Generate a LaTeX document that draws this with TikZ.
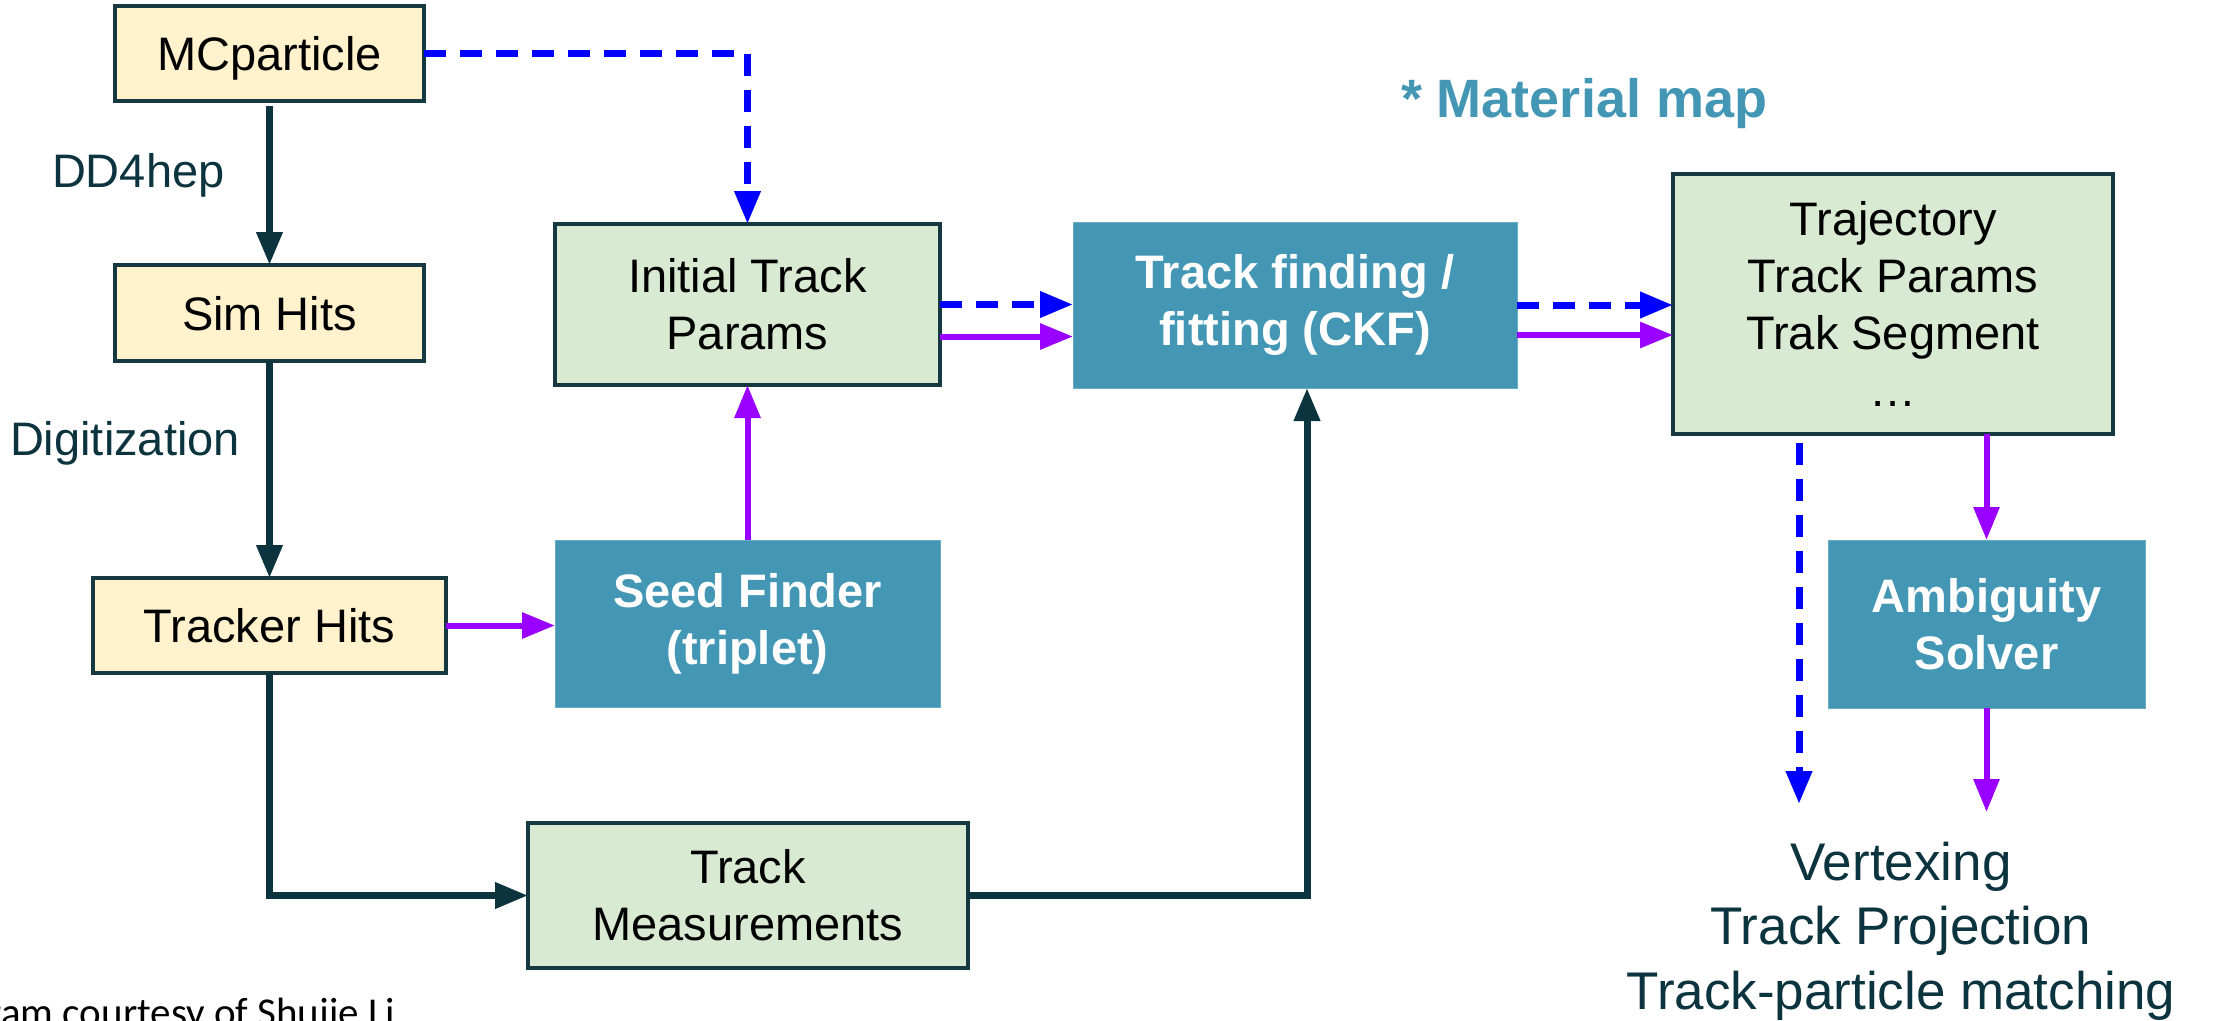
\documentclass[tikz,border=0pt]{standalone}
\usepackage{fontspec}
\setmainfont{Liberation Sans}
\newfontfamily\creditfont{Carlito}
\usetikzlibrary{arrows.meta,calc}

\definecolor{inkteal}{RGB}{12,52,62}
\definecolor{boxedge}{RGB}{22,56,64}
\definecolor{sandfill}{RGB}{255,242,204}
\definecolor{sagefill}{RGB}{217,234,211}
\definecolor{procfill}{RGB}{67,151,181}
\definecolor{flowviolet}{RGB}{153,0,255}
\definecolor{flowblue}{RGB}{0,0,255}

\begin{document}
\begin{tikzpicture}[x=1pt,y=-1pt,
  >={Triangle[length=33pt,width=25pt]},
  every node/.style={inner sep=0pt,outer sep=0pt},
  sandbox/.style={rectangle,draw=boxedge,line width=3.5pt,fill=sandfill,
    font=\fontsize{47}{57}\selectfont,text height=34pt,text depth=0pt},
  sagebox/.style={rectangle,draw=boxedge,line width=3.5pt,fill=sagefill,
    font=\fontsize{47}{57}\selectfont,align=center},
  procbox/.style={rectangle,fill=procfill,draw=procfill!80!white,line width=1pt,
    text=white,font=\bfseries\fontsize{47}{57}\selectfont,align=center},
  mainflow/.style={draw=inkteal,line width=7pt,->},
  seedflow/.style={draw=flowviolet,line width=6pt,->},
  truthflow/.style={draw=flowblue,line width=7pt,dash pattern=on 22pt off 14pt,->},
  sidelabel/.style={text=inkteal,font=\fontsize{47}{57}\selectfont,anchor=base west},
  outlabel/.style={text=inkteal,font=\fontsize{53}{64}\selectfont,anchor=base}]

\useasboundingbox (0,0) rectangle (2213,1020);
\fill[white] (0,0) rectangle (2213,1020);
\clip (0,0) rectangle (2213,1020);

% input chain
\node[sandbox,minimum width=309pt,minimum height=95pt] (mc) at (269.5,53.5) {MCparticle};
\node[sandbox,minimum width=309pt,minimum height=96pt] (sim) at (269.5,313) {Sim Hits};
\node[sandbox,minimum width=353pt,minimum height=95pt] (trk) at (269.5,625.5) {Tracker Hits};

% seeding and measurements
\node[sagebox,minimum width=385pt,minimum height=161pt] (init) at (747.5,304.5) {Initial Track\\Params};
\node[procbox,minimum width=385pt,minimum height=167pt] (seed) at (747.5,623.5) {Seed Finder\\(triplet)};
\node[sagebox,minimum width=440pt,minimum height=145pt] (meas) at (748,895.5) {Track\\Measurements};

% fitting and outputs
\node[procbox,minimum width=444pt,minimum height=166pt] (ckf) at (1295,305) {Track finding /\\fitting (CKF)};
\node[sagebox,minimum width=440pt,minimum height=260pt] (traj) at (1893,304) {Trajectory\\Track Params\\Trak Segment\\…};
\node[procbox,minimum width=317pt,minimum height=168pt] (amb) at (1986.5,624) {Ambiguity\\Solver};

% labels
\node[sidelabel] (dd4) at (52,187) {DD4hep};
\node[sidelabel] (digi) at (10,455) {Digitization};
\node[anchor=base west,text=procfill,font=\bfseries\fontsize{54}{60}\selectfont] (matmap) at (1401,117) {* Material map};

\node[outlabel] (out1) at (1901,880) {Vertexing};
\node[outlabel] (out2) at (1901,944) {Track Projection};
\node[outlabel] (out3) at (1901,1009) {Track-particle matching};

\node[anchor=base east,font=\creditfont\fontsize{41}{48}\selectfont] (credit) at (395,1026) {Diagram courtesy of Shujie Li};

% connectors
\draw[mainflow] ($(mc.south)+(0,5)$) -- (sim.north);
\draw[mainflow] (sim.south) -- (trk.north);
\draw[mainflow] (trk.south) |- (meas.west);
\draw[mainflow] (meas.east) -| ($(ckf.south)+(12,0)$);

\draw[seedflow] (trk.east) -- (trk.east -| seed.west);
\draw[seedflow] (seed.north) -- (init.south);

\draw[truthflow] (mc.east) -| (init.north);
\draw[truthflow] (init.east) -- (init.east -| ckf.west);
\draw[seedflow] ($(init.east)+(0,32)$) -- ($(init.east -| ckf.west)+(0,32)$);
\draw[truthflow] (ckf.east) -- (ckf.east -| traj.west);
\draw[seedflow] ($(ckf.east)+(0,30)$) -- ($(ckf.east -| traj.west)+(0,30)$);

\coordinate (truthend) at (1799,804);
\coordinate (ambend) at (1987,812);
\draw[truthflow] ($(traj.south -| truthend)+(0,9)$) -- (truthend);
\draw[seedflow] (traj.south -| amb.north) -- (amb.north);
\draw[seedflow] (amb.south) -- (amb.south |- ambend);
\end{tikzpicture}
\end{document}
